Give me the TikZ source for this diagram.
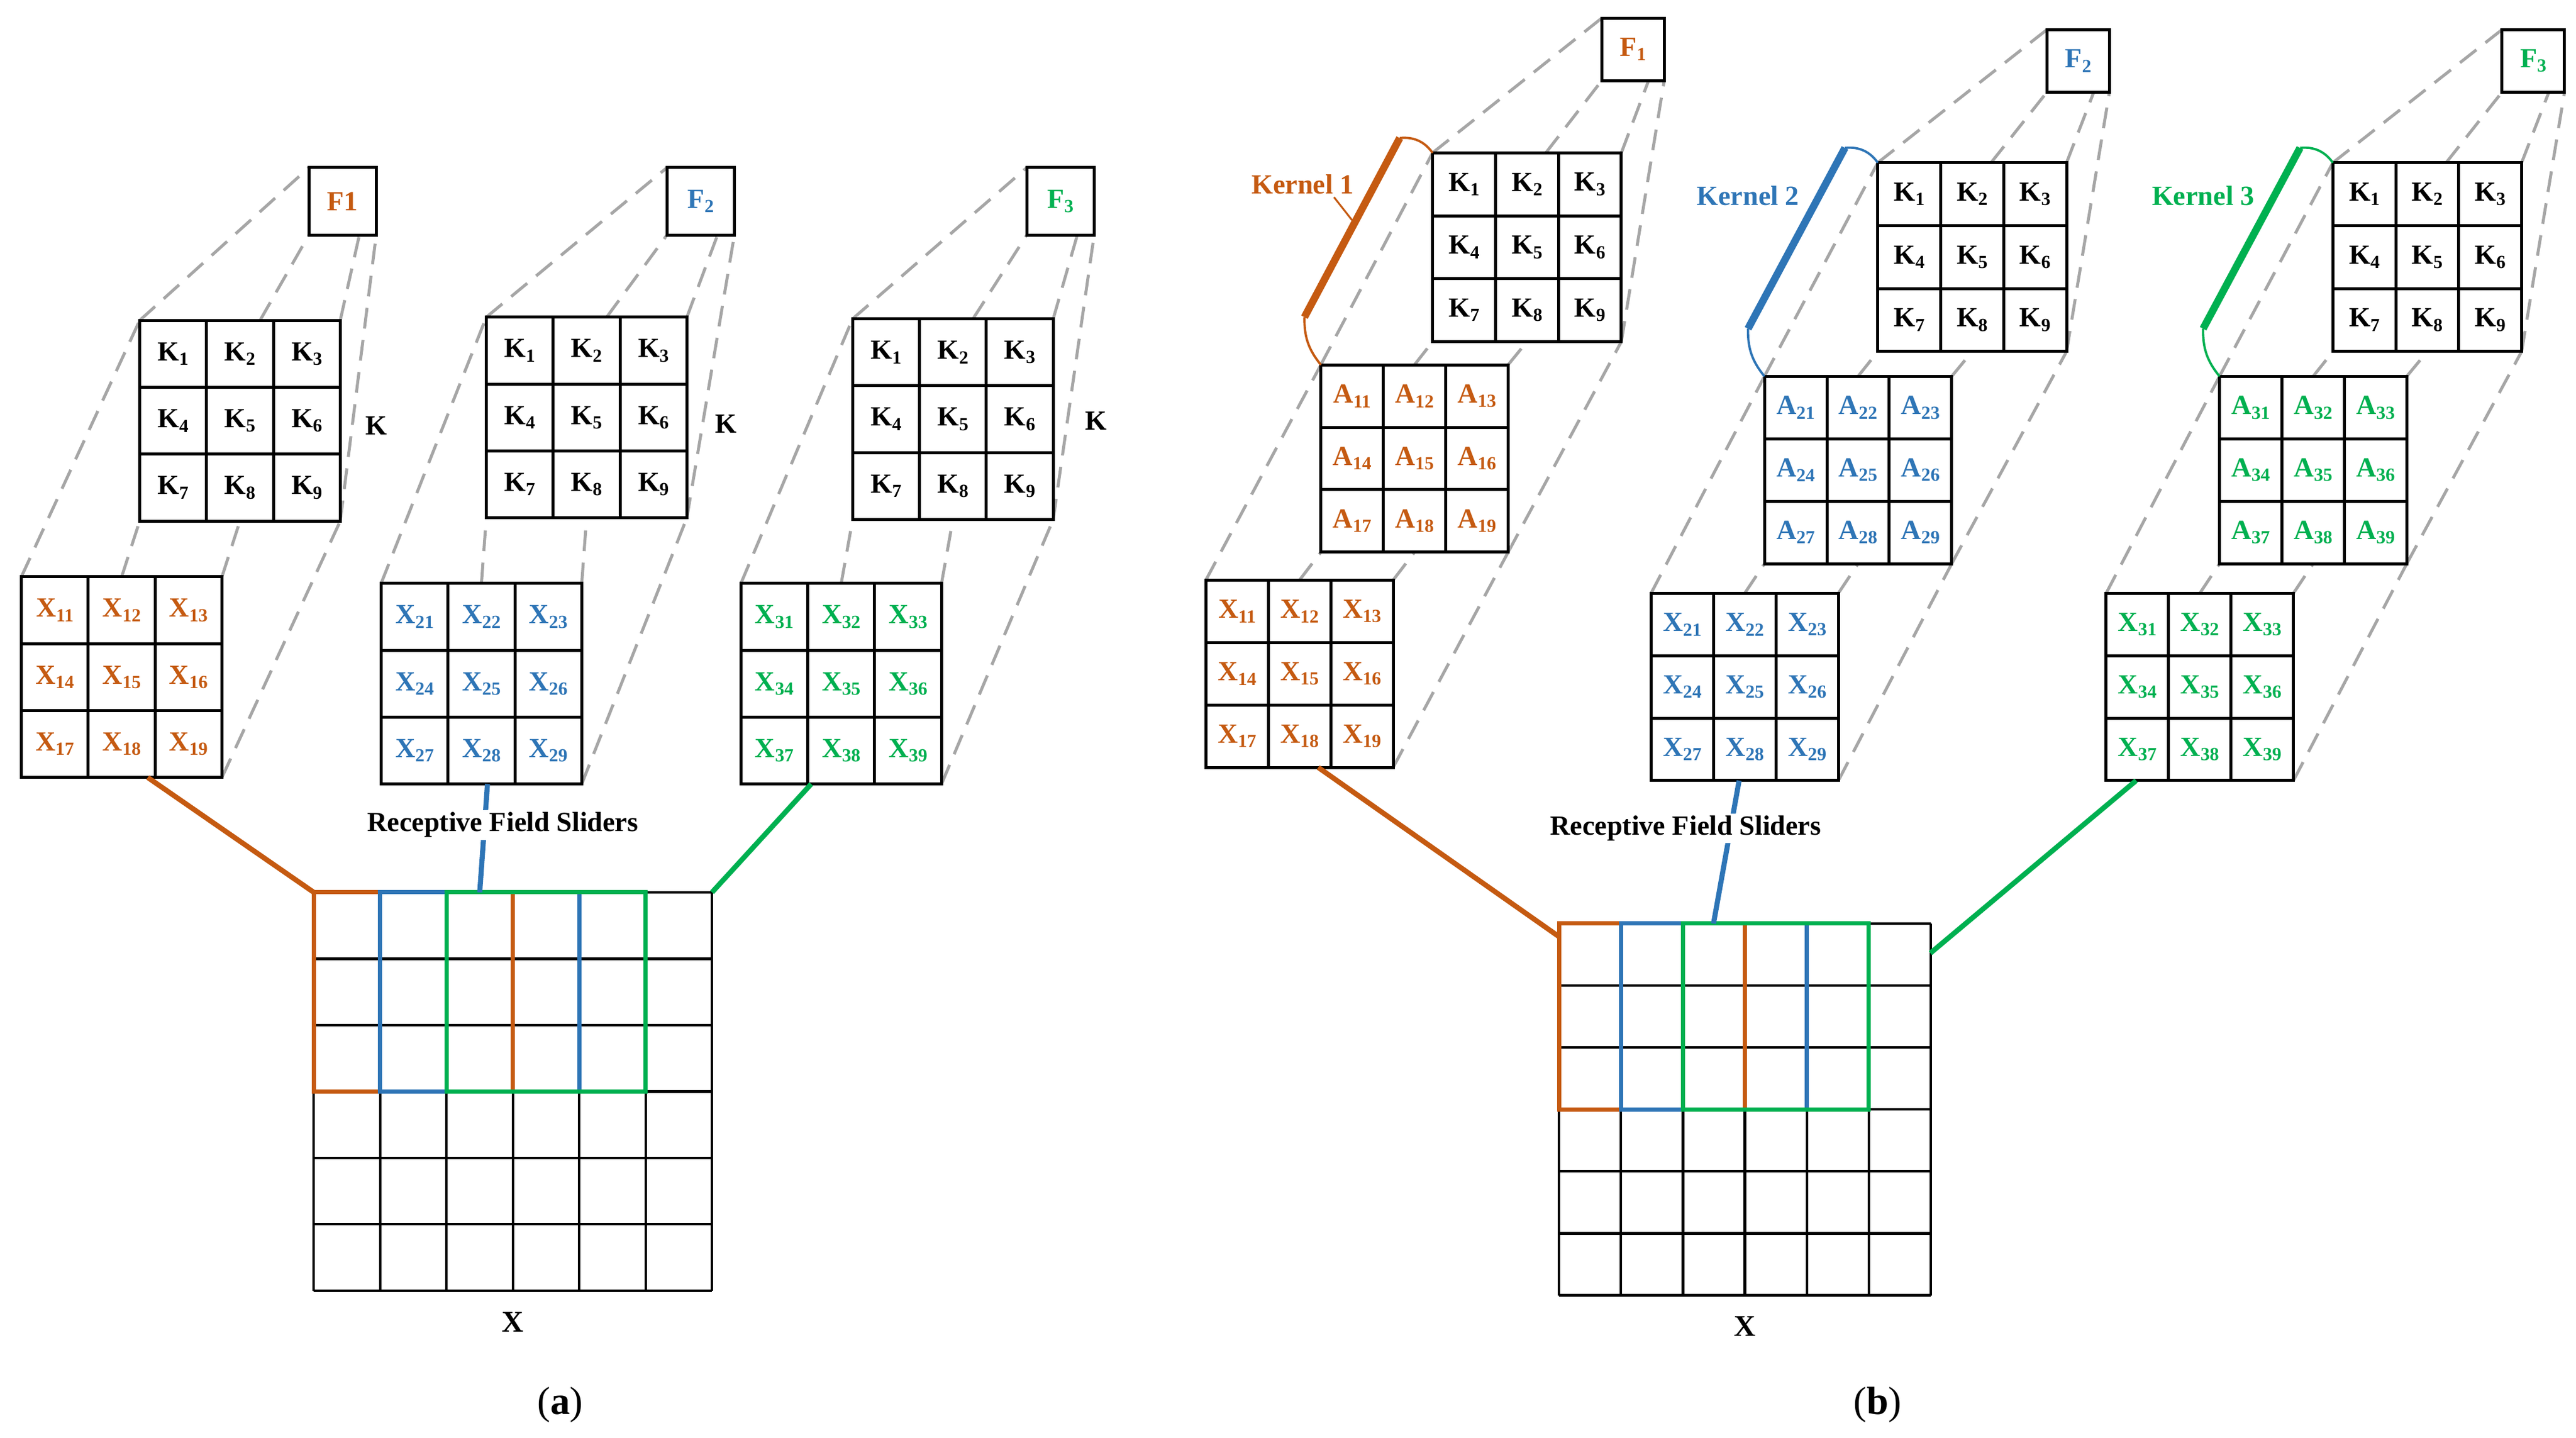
\documentclass[tikz,border=0pt]{standalone}
\usepackage{fontspec}
\setmainfont{Liberation Serif}
\usetikzlibrary{calc,backgrounds}
\definecolor{cor}{RGB}{197,90,17}
\definecolor{cbl}{RGB}{46,117,182}
\definecolor{cgr}{RGB}{0,176,80}
\tikzset{
 cell/.style={draw=black,fill=white,line width=1.3pt,inner sep=0pt,font=\fontsize{12}{12}\selectfont\bfseries},
 dsh/.style={draw=black!35,line width=1.3pt,dash pattern=on 9pt off 5pt},
 lbl/.style={font=\fontsize{12}{12}\selectfont\bfseries,inner sep=0pt},
 captxt/.style={font=\fontsize{17}{17}\selectfont,inner sep=0pt},
 conn/.style={line width=2.2pt},
 brc/.style={line width=3.2pt},
 gridl/.style={line width=1.1pt},
 selbox/.style={line width=1.8pt},
}
\newcommand\sub[1]{\raisebox{-0.35ex}{\fontsize{8}{8}\selectfont #1}}
\newcommand\mymat[7]{%
 \foreach \r in {0,1,2}{\foreach \c in {0,1,2}{%
   \pgfmathtruncatemacro\k{\r*3+\c+1}%
   \node[cell,minimum size={#4*0.025cm},text=#7] (#1-\k) at ({#2+#4*\c+#4/2},{#3+#4*\r+#4/2}) {#5\sub{#6\k}};}}
 \coordinate (#1-tl) at (#2,#3);
 \coordinate (#1-tr) at ({#2+3*#4},#3);
 \coordinate (#1-bl) at (#2,{#3+3*#4});
 \coordinate (#1-br) at ({#2+3*#4},{#3+3*#4});
 \coordinate (#1-tm) at ({#2+1.5*#4},#3);
 \coordinate (#1-bm) at ({#2+1.5*#4},{#3+3*#4});
 \coordinate (#1-t6) at ({#2+1.8*#4},#3);
}
\newcommand\myF[5]{%
 \node[cell,minimum size={#4*0.025cm}] (#1) at ({#2+#4/2},{#3+#4/2}) {#5};
 \coordinate (#1-tl) at (#2,#3);
 \coordinate (#1-bl) at (#2,{#3+#4});
 \coordinate (#1-br) at ({#2+#4},{#3+#4});
 \coordinate (#1-b7) at ({#2+0.75*#4},{#3+#4});
}
\newcommand\lnk[2]{%
 \draw[dsh] (#1-tl) -- (#2-tl);
 \draw[dsh] (#1-tm) -- (#2-bl);
 \draw[dsh] (#1-tr) -- (#2-bm);
 \draw[dsh] (#1-br) -- (#2-br);}
\newcommand\lnkF[2]{%
 \draw[dsh] (#1-tl) -- (#2-tl);
 \draw[dsh] (#1-t6) -- (#2-bl);
 \draw[dsh] (#1-tr) -- (#2-b7);
 \draw[dsh] (#1-br) -- (#2-br);}
\newcommand\mygrid[4]{%
 \foreach \i in {0,...,6}{
  \draw[gridl] ({#2+\i*#4},#3) -- ({#2+\i*#4},{#3+6*#4});
  \draw[gridl] (#2,{#3+\i*#4}) -- ({#2+6*#4},{#3+\i*#4});}
 \coordinate (#1-tl) at (#2,#3);
 \coordinate (#1-tr) at ({#2+6*#4},#3);
 \draw[selbox,cor] (#2,#3) rectangle ({#2+3*#4},{#3+3*#4});
 \draw[selbox,cbl] ({#2+#4},#3) rectangle ({#2+4*#4},{#3+3*#4});
 \draw[selbox,cgr] ({#2+2*#4},#3) rectangle ({#2+5*#4},{#3+3*#4});
 \node[lbl,font=\fontsize{13}{13}\selectfont\bfseries] (#1-lab) at ({#2+3*#4},{#3+6*#4+19}) {X};
}
\newcommand\mybrace[3]{%
 \draw[brc,#3] ($(#1-tl)+(-10,-29)$) -- ($(#2-tl)+(-20,-9)$);
 \draw[line width=1pt,#3] (#1-tl) to[bend left=20] ($(#1-tl)+(-10,-29)$);
 \draw[line width=1pt,#3] ($(#2-tl)+(-20,-9)$) to[bend left=30] (#2-tl);
}
\begin{document}
\begin{tikzpicture}[x=0.025cm,y=-0.025cm]
\useasboundingbox (0,0) rectangle (1568,875);
% ---------- panel (a) ----------
\mymat{Xa1}{13}{351}{40.7}{X}{1}{cor}
\mymat{Xa2}{232}{355}{40.7}{X}{2}{cbl}
\mymat{Xa3}{451}{355}{40.7}{X}{3}{cgr}
\mymat{Ka1}{85}{195}{40.7}{K}{}{black}
\mymat{Ka2}{296}{193}{40.7}{K}{}{black}
\mymat{Ka3}{519}{194}{40.7}{K}{}{black}
\myF{Fa1}{188}{102}{41}{\textcolor{cor}{F1}}
\myF{Fa2}{406}{102}{41}{\textcolor{cbl}{F\sub{2}}}
\myF{Fa3}{625}{102}{41}{\textcolor{cgr}{F\sub{3}}}
\begin{scope}[on background layer]
\lnk{Xa1}{Ka1}\lnk{Xa2}{Ka2}\lnk{Xa3}{Ka3}
\lnkF{Ka1}{Fa1}\lnkF{Ka2}{Fa2}\lnkF{Ka3}{Fa3}
\end{scope}
\node[lbl] (ka1) at (229,259) {K};
\node[lbl] (ka2) at (442,258) {K};
\node[lbl] (ka3) at (667,256) {K};
\mygrid{Ga}{191}{543}{40.4}
\coordinate (ga-o) at (191,543);
\coordinate (ga-b) at (292,543);
\draw[conn,cor] ($(Xa1-bl)!0.63!(Xa1-br)$) -- (ga-o);
\draw[conn,cbl] ($(Xa2-bl)!0.53!(Xa2-br)$) -- (ga-b);
\draw[conn,cgr] ($(Xa3-bl)!0.35!(Xa3-br)$) -- (Ga-tr);
\node[lbl,fill=white,inner sep=1pt] (rfa) at (306,502) {Receptive Field Sliders};
\node[captxt] (capa) at (341,855) {(\textbf{a})};
% ---------- panel (b) ----------
\mymat{Xb1}{734}{353}{38}{X}{1}{cor}
\mymat{Xb2}{1005}{361}{38}{X}{2}{cbl}
\mymat{Xb3}{1282}{361}{38}{X}{3}{cgr}
\mymat{Ab1}{804}{222}{38}{A}{1}{cor}
\mymat{Ab2}{1074}{229}{38}{A}{2}{cbl}
\mymat{Ab3}{1351}{229}{38}{A}{3}{cgr}
\mymat{Kb1}{872}{93}{38.3}{K}{}{black}
\mymat{Kb2}{1143}{99}{38.3}{K}{}{black}
\mymat{Kb3}{1420}{99}{38.3}{K}{}{black}
\myF{Fb1}{975}{11}{38}{\textcolor{cor}{F\sub{1}}}
\myF{Fb2}{1246}{18}{38}{\textcolor{cbl}{F\sub{2}}}
\myF{Fb3}{1523}{18}{38}{\textcolor{cgr}{F\sub{3}}}
\begin{scope}[on background layer]
\lnk{Xb1}{Ab1}\lnk{Xb2}{Ab2}\lnk{Xb3}{Ab3}
\lnk{Ab1}{Kb1}\lnk{Ab2}{Kb2}\lnk{Ab3}{Kb3}
\lnkF{Kb1}{Fb1}\lnkF{Kb2}{Fb2}\lnkF{Kb3}{Fb3}
\end{scope}
\mybrace{Ab1}{Kb1}{cor}
\mybrace{Ab2}{Kb2}{cbl}
\mybrace{Ab3}{Kb3}{cgr}
\node[lbl,text=cor] (kn1) at (793,112) {Kernel 1};
\node[lbl,text=cbl] (kn2) at (1064,119) {Kernel 2};
\node[lbl,text=cgr] (kn3) at (1341,119) {Kernel 3};
\coordinate (kl1) at (812,120);
\coordinate (kl2) at (823,134);
\draw[cor,line width=0.8pt] (kl1) -- (kl2);
\mygrid{Gb}{949}{562}{37.7}
\coordinate (gb-o) at (949,570);
\coordinate (gb-b) at (1043,562);
\coordinate (gb-g) at (1175,580);
\draw[conn,cor] ($(Xb1-bl)!0.6!(Xb1-br)$) -- (gb-o);
\draw[conn,cbl] ($(Xb2-bl)!0.47!(Xb2-br)$) -- (gb-b);
\draw[conn,cgr] ($(Xb3-bl)!0.16!(Xb3-br)$) -- (gb-g);
\node[lbl,fill=white,inner sep=1pt] (rfb) at (1026,504) {Receptive Field Sliders};
\node[captxt] (capb) at (1143,855) {(\textbf{b})};
\end{tikzpicture}
\end{document}
